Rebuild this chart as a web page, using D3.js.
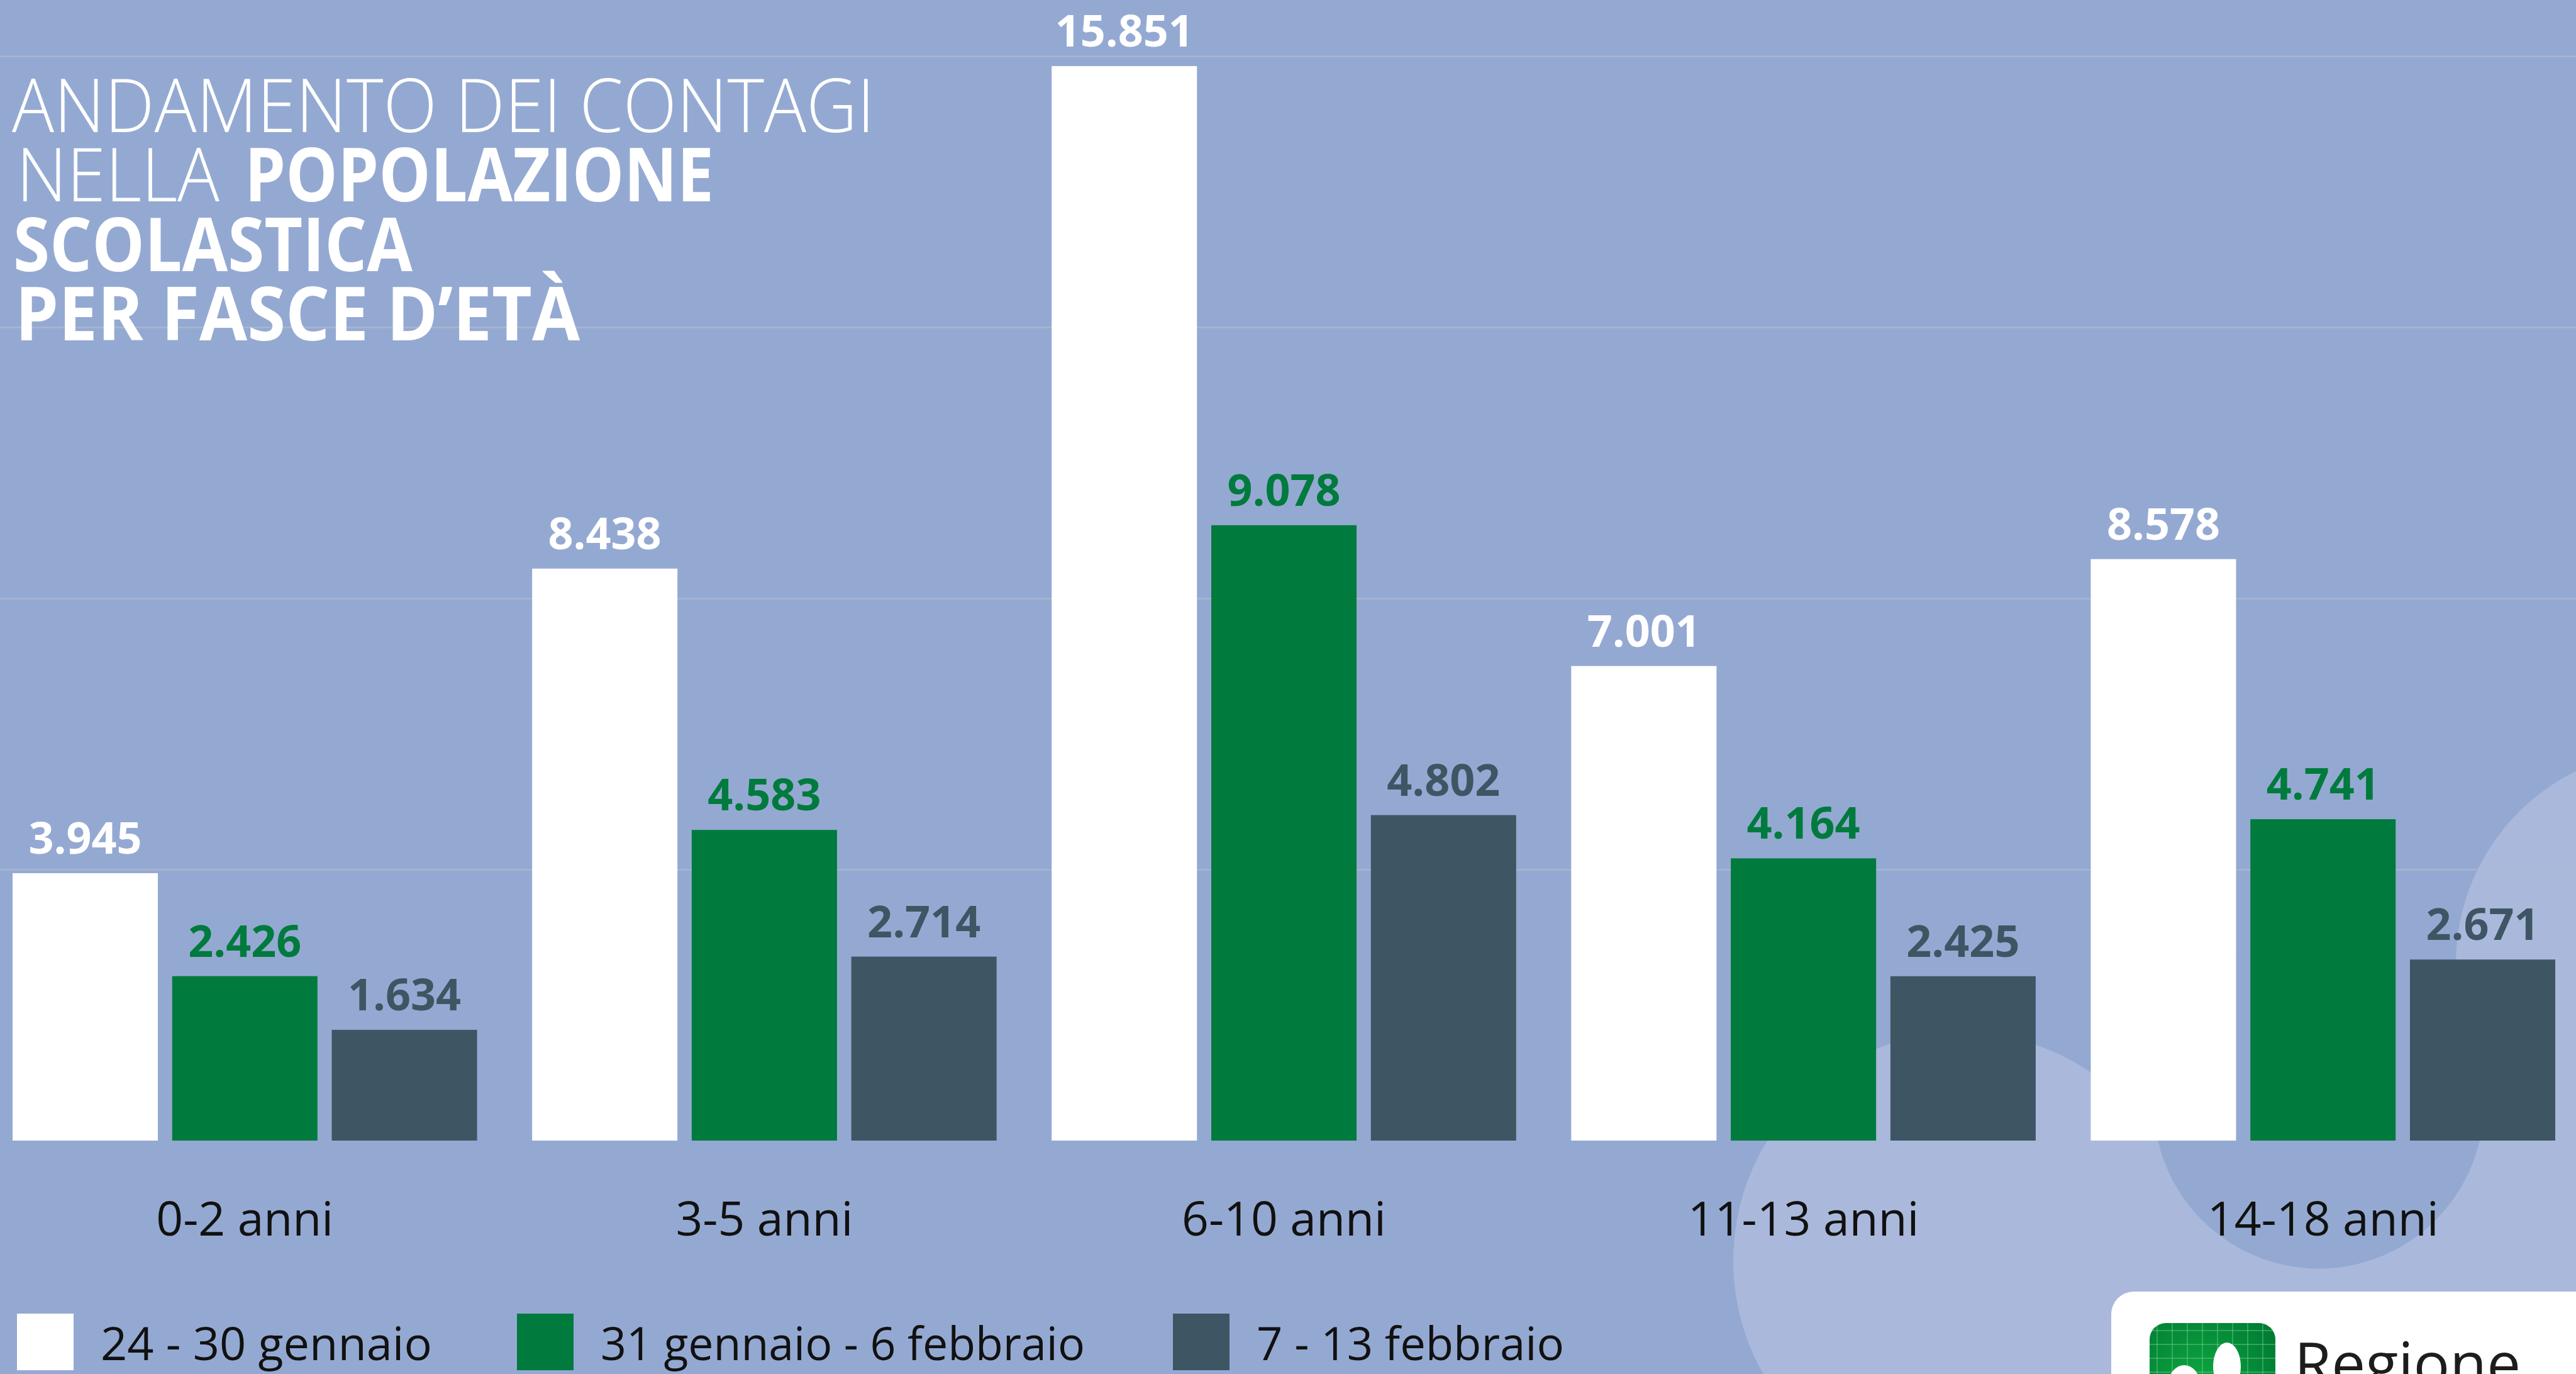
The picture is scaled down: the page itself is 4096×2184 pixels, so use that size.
<!DOCTYPE html>
<html>
<head>
<meta charset="utf-8">
<script src="https://cdn.jsdelivr.net/npm/d3@7"></script>
<style>
  html, body { margin: 0; padding: 0; background: #94A9D2; overflow: hidden; }
  svg { display: block; }
</style>
</head>
<body>
<svg id="chart" width="4096" height="2184"></svg>
<script>
// ---- data ----
const categories = ["0-2 anni", "3-5 anni", "6-10 anni", "11-13 anni", "14-18 anni"];
const seriesNames = ["24 - 30 gennaio", "31 gennaio - 6 febbraio", "7 - 13 febbraio"];
const values1 = [3945, 8438, 15851, 7001, 8578];
const values2 = [2426, 4583, 9078, 4164, 4741];
const values3 = [1634, 2714, 4802, 2425, 2671];
const gridValues = [4000, 8000, 12000, 16000];
const titleLines = ["ANDAMENTO DEI CONTAGI", "NELLA ", "POPOLAZIONE", "SCOLASTICA", "PER FASCE D’ETÀ"];

const seriesColors = ["#FFFFFF", "#007A3D", "#3E5563"];
const W = 4096, H = 2184;
const bg = "#94A9D2", light = "#AAB9DB";

const svg = d3.select("#chart");
svg.append("rect").attr("width", W).attr("height", H).attr("fill", bg);

// decorative circles
const deco = svg.append("g");
[[3119, 2004, 363], [4246, 1532, 341], [3719, 2144, 490]].forEach(c =>
  deco.append("circle").attr("cx", c[0]).attr("cy", c[1]).attr("r", c[2]).attr("fill", light));
deco.append("circle").attr("cx", 3687).attr("cy", 1754).attr("r", 262.5).attr("fill", bg);

// scales
const y = d3.scaleLinear().domain([0, 16000]).range([1813, 89]);
const x0 = d3.scaleBand().domain(categories).range([20, 4063]).paddingInner(0.106).paddingOuter(0);
const x1 = d3.scaleBand().domain(d3.range(3)).range([0, x0.bandwidth()]).paddingInner(0.0897).paddingOuter(0);

// grid lines
const grid = svg.append("g")
  .call(d3.axisLeft(y).tickValues(gridValues).tickSize(-W).tickFormat(""));
grid.select(".domain").remove();
grid.selectAll(".tick line").attr("stroke", "#AEB7CE").attr("stroke-width", 2);

// bars
const it = d3.formatLocale({decimal: ",", thousands: ".", grouping: [3], currency: ["€", ""]});
const fmt = it.format(",d");
const series = [values1, values2, values3];
const rows = [];
categories.forEach((c, i) => series.forEach((s, j) => rows.push({cat: c, j: j, v: s[i]})));

const bars = svg.append("g");
bars.selectAll("rect").data(rows).join("rect")
  .attr("x", d => x0(d.cat) + x1(d.j))
  .attr("y", d => y(d.v))
  .attr("width", x1.bandwidth())
  .attr("height", d => y(0) - y(d.v))
  .attr("fill", d => seriesColors[d.j]);

bars.selectAll("text").data(rows).join("text")
  .attr("x", d => x0(d.cat) + x1(d.j) + x1.bandwidth() / 2)
  .attr("y", d => y(d.v) - 31)
  .attr("text-anchor", "middle")
  .attr("font-family", "'Open Sans', sans-serif")
  .attr("font-weight", 700)
  .attr("font-size", 70)
  .attr("fill", d => seriesColors[d.j])
  .text(d => fmt(d.v));

// category labels
svg.append("g").selectAll("text").data(categories).join("text")
  .attr("x", d => x0(d) + x0.bandwidth() / 2)
  .attr("y", 1964)
  .attr("text-anchor", "middle")
  .attr("font-family", "'Open Sans', sans-serif")
  .attr("font-size", 75)
  .attr("fill", "#111111")
  .text(d => d);

// title
const tf = "'Open Sans', sans-serif";
const title = svg.append("g").attr("fill", "#FFFFFF").attr("font-family", tf).attr("font-size", 118);
const tspec = [
  {t: titleLines[0], x: 19, y: 210, w: 1372, wt: 300},
  {t: titleLines[1].trim(), x: 26, y: 320, w: 323, wt: 300},
  {t: titleLines[2], x: 389, y: 320, w: 746, wt: 700},
  {t: titleLines[3], x: 21, y: 431, w: 635, wt: 700},
  {t: titleLines[4], x: 24, y: 541, w: 898, wt: 700}
];
tspec.forEach(s => title.append("text")
  .attr("x", s.x).attr("y", s.y)
  .attr("font-weight", s.wt)
  .attr("textLength", s.w).attr("lengthAdjust", "spacingAndGlyphs")
  .text(s.t));

// legend
const legX = [27, 822, 1865];
const legW = [527, 770, 489];
const leg = svg.append("g");
seriesNames.forEach((n, j) => {
  leg.append("rect").attr("x", legX[j]).attr("y", 2088).attr("width", 90).attr("height", 90)
    .attr("fill", seriesColors[j]);
  leg.append("text").attr("x", legX[j] + 133).attr("y", 2162)
    .attr("font-family", "'Open Sans', sans-serif").attr("font-size", 74)
    .attr("textLength", legW[j]).attr("lengthAdjust", "spacingAndGlyphs")
    .attr("fill", "#111111").text(n);
});

// logo box
const logo = svg.append("g");
logo.append("rect").attr("x", 3357).attr("y", 2053).attr("width", 900).attr("height", 300)
  .attr("rx", 36).attr("fill", "#FFFFFF");
const defs = svg.append("defs");
const rg = defs.append("radialGradient").attr("id", "lg").attr("cx", "40%").attr("cy", "45%").attr("r", "70%");
rg.append("stop").attr("offset", "0%").attr("stop-color", "#0DA640");
rg.append("stop").attr("offset", "100%").attr("stop-color", "#007A33");
defs.append("clipPath").attr("id", "iclip").append("rect")
  .attr("x", 3418).attr("y", 2103).attr("width", 200).attr("height", 200).attr("rx", 26);
const icon = logo.append("g").attr("clip-path", "url(#iclip)");
icon.append("rect").attr("x", 3418).attr("y", 2103).attr("width", 200).attr("height", 200).attr("fill", "url(#lg)");
d3.range(8).forEach(k => {
  icon.append("line").attr("x1", 3430 + k * 24).attr("x2", 3430 + k * 24).attr("y1", 2103).attr("y2", 2303)
    .attr("stroke", "#6FCB8A").attr("stroke-width", 1.5).attr("opacity", 0.6);
});
d3.range(4).forEach(k => {
  icon.append("line").attr("x1", 3418).attr("x2", 3618).attr("y1", 2115 + k * 22).attr("y2", 2115 + k * 22)
    .attr("stroke", "#6FCB8A").attr("stroke-width", 1.5).attr("opacity", 0.6);
});
icon.append("ellipse").attr("cx", 3541).attr("cy", 2172).attr("rx", 22).attr("ry", 38).attr("fill", "#FFFFFF");
icon.append("ellipse").attr("cx", 3473).attr("cy", 2200).attr("rx", 25).attr("ry", 30).attr("fill", "#FFFFFF");
logo.append("text").attr("x", 3648).attr("y", 2202)
  .attr("font-family", "'Open Sans', sans-serif").attr("font-size", 96).attr("font-weight", 500)
  .attr("fill", "#1D1D1B").text("Regione");
</script>
</body>
</html>
